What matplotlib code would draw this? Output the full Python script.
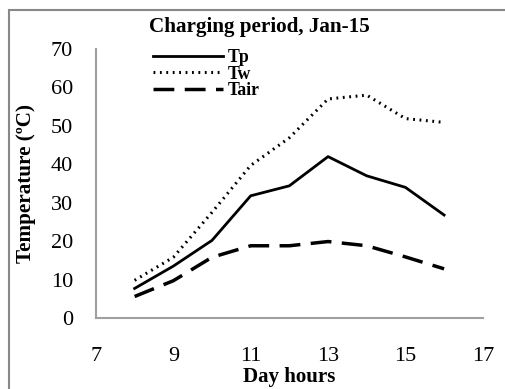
import matplotlib
matplotlib.use("Agg")
import matplotlib.pyplot as plt
from matplotlib.patches import Rectangle

hours = [8, 9, 10, 11, 12, 13, 14, 15, 16]
tp = [7.7, 13.5, 20.2, 31.8, 34.4, 42.0, 37.0, 34.0, 26.8]
tw = [9.8, 15.8, 27.5, 39.7, 46.9, 57.0, 58.0, 51.9, 50.9]
tair = [5.6, 9.7, 15.8, 18.8, 18.8, 19.9, 18.8, 15.9, 12.8]
labels = ["Tp", "Tw", "Tair"]
xticks = [7, 9, 11, 13, 15, 17]
yticks = [0, 10, 20, 30, 40, 50, 60, 70]

plt.rcParams['font.family'] = ['Liberation Serif', 'DejaVu Serif']

fig = plt.figure(figsize=(5.05, 3.89), dpi=100)
ax = fig.add_axes([0.190, 0.1825, 0.766, 0.6915])

ax.plot(hours, tp, color='black', lw=2.0, ls='-', label=labels[0])
ax.plot(hours, tw, color='black', lw=2.2, ls=(0, (0.6, 1.5)), label=labels[1])
ax.plot(hours, tair, color='black', lw=2.5, ls=(0, (6, 3)), label=labels[2])

ax.set_xlim(7, 17)
ax.set_ylim(0, 70)
ax.set_xticks(xticks)
ax.set_yticks(yticks)
ax.tick_params(axis='both', length=0, labelsize=16)
ax.tick_params(axis='x', pad=21)
ax.tick_params(axis='y', pad=16.5)
for s in ['top', 'right']:
    ax.spines[s].set_visible(False)
for s in ['left', 'bottom']:
    ax.spines[s].set_color('#a0a0a0')
    ax.spines[s].set_linewidth(1.5)

leg = ax.legend(loc='upper left', bbox_to_anchor=(0.147, 1.0), frameon=False,
                prop={'weight': 'bold', 'size': 12.8}, handlelength=3.95,
                handletextpad=0.25, labelspacing=-0.02, borderpad=0,
                borderaxespad=0)

fig.text(0.513, 0.93, "Charging period, Jan-15", ha='center', va='center',
         fontsize=15.2, fontweight='bold')
fig.text(0.052, 0.527, "Temperature (ºC)", ha='center', va='center',
         rotation=90, fontsize=15.2, fontweight='bold')
fig.text(0.573, 0.032, "Day hours", ha='center', va='center',
         fontsize=15.1, fontweight='bold')

fig.patches.append(Rectangle((9/505, -0.05), 1.2, 1 - 9.5/389 + 0.05,
                             transform=fig.transFigure, fill=False,
                             edgecolor='#888888', lw=1.5))

fig.savefig("out.png", dpi=100)
